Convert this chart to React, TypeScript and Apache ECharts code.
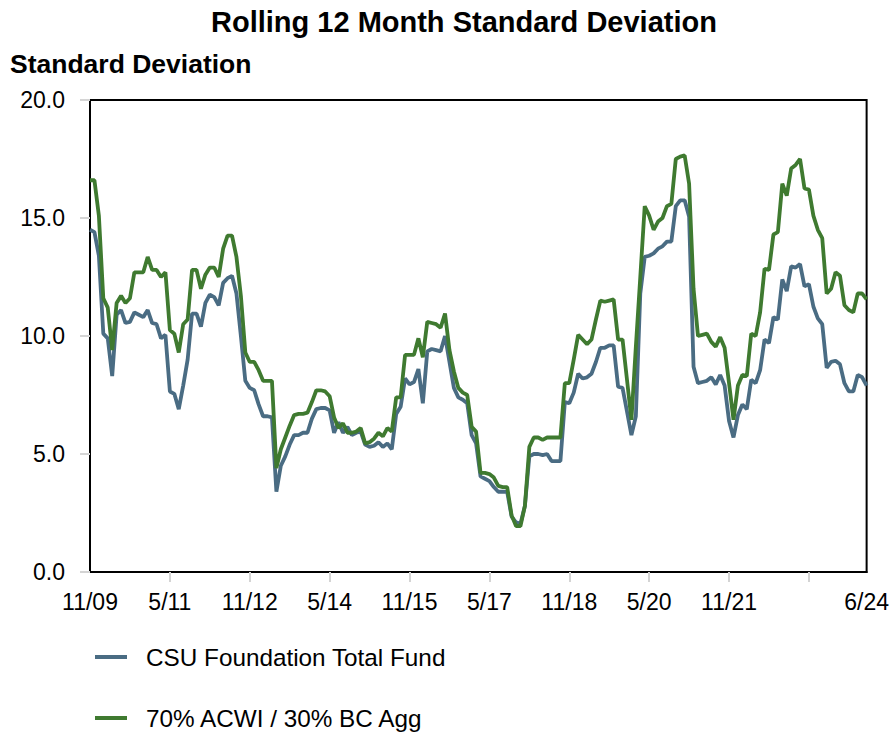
import React, { useEffect, useRef } from 'react';
import * as echarts from 'echarts';

const FONT = 'Arial, "Liberation Sans", Helvetica, sans-serif';

const START_MONTH = 11;
const START_YEAR = 2009;
const MONTH_COUNT = 176;
const months: string[] = [];
for (let k = 0; k < MONTH_COUNT; k++) {
  const m0 = START_MONTH - 1 + k;
  const m = (m0 % 12) + 1;
  const y = START_YEAR + Math.floor(m0 / 12);
  months.push(`${m}/${String(y % 100).padStart(2, '0')}`);
}

const seriesNames = ['CSU Foundation Total Fund', '70% ACWI / 30% BC Agg'];

const fundValues = [
  14.5, 14.4, 13.4, 10.1, 9.9, 8.3, 10.9, 11.1, 10.55, 10.6,
  11.0, 10.9, 10.8, 11.1, 10.55, 10.5, 9.9, 10.05, 7.65, 7.55,
  6.9, 7.9, 9.0, 10.95, 10.95, 10.4, 11.4, 11.75, 11.65, 11.3,
  12.25, 12.45, 12.55, 11.8, 10.0, 8.1, 7.8, 7.7, 7.1, 6.6,
  6.6, 6.55, 3.4, 4.5, 4.9, 5.4, 5.8, 5.8, 5.9, 5.9,
  6.5, 6.9, 6.95, 6.95, 6.85, 5.9, 6.35, 5.9, 6.15, 5.8,
  5.9, 5.95, 5.4, 5.3, 5.35, 5.5, 5.3, 5.45, 5.2, 6.7,
  7.0, 8.2, 7.95, 8.05, 8.6, 7.15, 9.35, 9.45, 9.4, 9.35,
  10.0, 8.9, 7.8, 7.4, 7.3, 7.15, 5.8, 5.45, 4.05, 3.95,
  3.85, 3.6, 3.4, 3.4, 3.4, 2.35, 2.1, 2.05, 2.8, 4.9,
  5.0, 5.0, 4.95, 5.0, 4.7, 4.7, 4.7, 7.2, 7.15, 7.6,
  8.4, 8.2, 8.25, 8.4, 8.9, 9.5, 9.5, 9.6, 9.6, 7.85,
  7.8, 6.8, 5.8, 6.6, 11.8, 13.35, 13.4, 13.5, 13.7, 13.8,
  14.0, 14.0, 15.5, 15.75, 15.75, 15.05, 8.7, 8.0, 8.05, 8.1,
  8.25, 7.95, 8.35, 7.9, 6.4, 5.7, 6.65, 7.1, 6.9, 8.15,
  8.0, 8.55, 9.85, 9.7, 10.8, 10.7, 12.4, 11.9, 12.95, 12.9,
  13.05, 12.1, 12.2, 11.25, 10.75, 10.5, 8.65, 8.9, 8.95, 8.8,
  8.0, 7.65, 7.65, 8.35, 8.25, 7.9,
];

const benchmarkValues = [
  16.6, 16.6, 15.1, 11.6, 11.2, 9.4, 11.4, 11.7, 11.4, 11.6,
  12.7, 12.7, 12.7, 13.35, 12.8, 12.8, 12.5, 12.7, 10.25, 10.1,
  9.3, 10.5, 10.7, 12.8, 12.8, 12.0, 12.6, 12.9, 12.9, 12.5,
  13.7, 14.25, 14.25, 13.35, 11.7, 9.3, 8.9, 8.9, 8.55, 8.1,
  8.1, 8.1, 4.4, 5.2, 5.7, 6.2, 6.65, 6.7, 6.7, 6.75,
  7.2, 7.7, 7.7, 7.65, 7.45, 6.55, 6.1, 6.3, 5.9, 5.9,
  5.95, 6.1, 5.45, 5.5, 5.65, 5.9, 5.75, 6.1, 5.95, 7.4,
  7.4, 9.2, 9.2, 9.2, 9.9, 9.1, 10.6, 10.55, 10.5, 10.35,
  10.95, 9.4, 8.5, 7.8, 7.6, 7.5, 6.15, 5.95, 4.2, 4.2,
  4.15, 4.0, 3.65, 3.6, 3.6, 2.4, 1.95, 1.95, 2.8, 5.3,
  5.7, 5.7, 5.6, 5.7, 5.7, 5.7, 5.7, 8.0, 8.0, 9.0,
  10.05, 9.85, 9.65, 9.85, 10.7, 11.5, 11.45, 11.5, 11.55, 9.85,
  9.85, 8.15, 6.45, 9.55, 12.5, 15.5, 15.1, 14.5, 14.85, 15.0,
  15.5, 15.6, 17.5, 17.6, 17.65, 16.45, 12.0, 10.0, 10.05, 10.1,
  9.75, 9.55, 9.95, 9.5, 8.0, 6.45, 7.9, 8.35, 8.3, 10.1,
  10.0, 11.0, 12.85, 12.8, 14.3, 14.4, 16.45, 15.95, 17.1, 17.25,
  17.5, 16.25, 16.2, 15.1, 14.5, 14.15, 11.8, 12.0, 12.7, 12.55,
  11.3, 11.1, 11.0, 11.8, 11.8, 11.55,
];

const TICK_STEP = 18;
const LAST_LABELED_TICK = 144;

const BLUE = '#4a6c83';
const GREEN = '#3f7a30';

export default function App() {
  const ref = useRef<HTMLDivElement>(null);

  useEffect(() => {
    if (!ref.current) return;
    const chart = echarts.init(ref.current, undefined, { renderer: 'svg' });
    const lastIdx = months.length - 1;
    const legendText = {
      fontFamily: FONT,
      fontSize: 24.3,
      lineHeight: 24,
      color: '#000',
      padding: [0, 0, 0, 14],
    };
    chart.setOption({
      animation: false,
      backgroundColor: '#ffffff',
      textStyle: { fontFamily: FONT },
      title: [
        {
          text: 'Rolling 12 Month Standard Deviation',
          left: 206,
          top: 2,
          textStyle: { fontFamily: FONT, fontSize: 29, fontWeight: 'bold', color: '#000' },
        },
        {
          text: 'Standard Deviation',
          left: 5,
          top: 45,
          textStyle: { fontFamily: FONT, fontSize: 26.5, fontWeight: 'bold', color: '#000' },
        },
      ],
      grid: {
        left: 90,
        top: 100,
        width: 780,
        height: 472,
        show: true,
        borderColor: '#000',
        borderWidth: 2,
        backgroundColor: 'transparent',
      },
      legend: [
        {
          orient: 'horizontal',
          left: 90,
          top: 640,
          itemWidth: 32,
          itemHeight: 4,
          icon: 'rect',
          data: [seriesNames[0]],
          textStyle: legendText,
        },
        {
          orient: 'horizontal',
          left: 90,
          top: 701,
          itemWidth: 32,
          itemHeight: 4,
          icon: 'rect',
          data: [seriesNames[1]],
          textStyle: legendText,
        },
      ],
      xAxis: {
        type: 'category',
        boundaryGap: false,
        data: months,
        axisLine: { show: true, lineStyle: { color: '#000', width: 2 } },
        axisTick: {
          show: true,
          length: 10,
          interval: (i: number) => i > 0 && i % TICK_STEP === 0,
          lineStyle: { color: '#d4d4d4', width: 2 },
        },
        axisLabel: {
          interval: (i: number) => (i % TICK_STEP === 0 && i <= LAST_LABELED_TICK) || i === lastIdx,
          fontFamily: FONT,
          fontSize: 23,
          color: '#000',
          margin: 18,
        },
        splitLine: { show: false },
      },
      yAxis: {
        type: 'value',
        min: 0,
        max: 20,
        interval: 5,
        axisLine: { show: true, lineStyle: { color: '#000', width: 2 } },
        axisTick: { show: true, length: 10, lineStyle: { color: '#d4d4d4', width: 2 } },
        axisLabel: {
          formatter: (v: number) => v.toFixed(1),
          fontFamily: FONT,
          fontSize: 23,
          color: '#000',
          margin: 25,
        },
        splitLine: { show: false },
      },
      series: [
        {
          name: seriesNames[0],
          type: 'line',
          data: fundValues,
          showSymbol: false,
          symbol: 'none',
          lineStyle: { color: BLUE, width: 3.8 },
          itemStyle: { color: BLUE },
        },
        {
          name: seriesNames[1],
          type: 'line',
          data: benchmarkValues,
          showSymbol: false,
          symbol: 'none',
          lineStyle: { color: GREEN, width: 3.8 },
          itemStyle: { color: GREEN },
        },
      ],
    });
    return () => chart.dispose();
  }, []);

  return (
    <div
      ref={ref}
      style={{ position: 'absolute', left: 0, top: 0, width: 892, height: 732, background: '#fff' }}
    />
  );
}
